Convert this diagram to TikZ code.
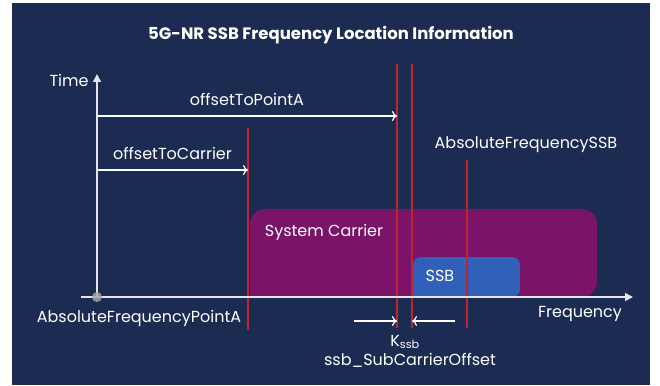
\documentclass[tikz,border=0pt]{standalone}
\usepackage{fontspec}
\setmainfont{Poppins}
\usetikzlibrary{arrows.meta}
\definecolor{navy}{HTML}{1B2B52}
\definecolor{carrier}{HTML}{7B1368}
\definecolor{ssbblue}{HTML}{3160B8}
\definecolor{redmark}{HTML}{C0222E}
\definecolor{axisgray}{HTML}{E4E4EC}

\begin{document}
\begin{tikzpicture}[x=1pt,y=-1pt,
  txt/.style={text=white,inner sep=0pt,font=\fontsize{16}{18}\selectfont},
  axis/.style={draw=axisgray,line width=1.4pt,-{Triangle[length=8pt,width=8pt]}},
  offset/.style={draw=white,line width=1.2pt,-{To[length=5pt,width=10pt]}},
  redline/.style={draw=redmark,line width=1.1pt}]
  \useasboundingbox (0,0) rectangle (660,385);
  \fill[navy] (12,3) rectangle (650,385);
  % carrier and ssb blocks
  \fill[carrier,rounded corners=15pt] (250,297) -- (250,209) -- (597,209) -- (597,297) [sharp corners] -- cycle;
  \fill[ssbblue,rounded corners=8pt] (413,297) -- (413,257) -- (520,257) -- (520,297) [sharp corners] -- cycle;
  \node [txt,font=\fontsize{16.5}{18}\bfseries] (title) at (331,35) {5G-NR SSB Frequency Location Information};
  \node [txt] (carriertxt) at (324,232) {System Carrier};
  \node [txt] (ssbtxt) at (440,276) {SSB};
  % red markers
  \coordinate (c1) at (248,128);  \coordinate (c1b) at (248,330);
  \coordinate (a1) at (397,64);   \coordinate (a1b) at (397,328);
  \coordinate (s1) at (412,64);   \coordinate (s1b) at (412,328);
  \coordinate (f1) at (467,160);  \coordinate (f1b) at (467,328);
  \path[redline] (c1) -- (c1b) (a1) -- (a1b) (s1) -- (s1b) (f1) -- (f1b);
  % axes
  \coordinate (o) at (97,297);
  \coordinate (t) at (97,74);
  \coordinate (fs) at (81,297);
  \coordinate (fe) at (633,297);
  \draw[axis] (o) -- (t);
  \draw[axis] (fs) -- (fe);
  \fill[gray!70,opacity=0.85] (o) circle (5pt);
  \node [txt] (time) at (69,80) {Time};
  \node [txt] (freq) at (580,314) {Frequency};
  \node [txt] (pointa) at (139,318) {AbsoluteFrequencyPointA};
  \node [txt] (ssbfreq) at (526,145) {AbsoluteFrequencySSB};
  % offsets
  \coordinate (pa0) at (97,116);  \coordinate (pa1) at (397,116);
  \coordinate (oc0) at (97,170);  \coordinate (oc1) at (248,170);
  \draw[offset] (pa0) -- node [txt,above=10pt] {offsetToPointA} (pa1);
  \draw[offset] (oc0) -- node [txt,above=10pt] {offsetToCarrier} (oc1);
  \coordinate (k0) at (354,321);  \coordinate (k1) at (455,321);
  \draw[offset] (k0) -- (a1b |- k0);
  \draw[offset] (k1) -- (s1b |- k1);
  \node [txt] (kssb) at (405,342) {K\textsubscript{ssb}};
  \node [txt] (subofs) at (410,360) {ssb\_SubCarrierOffset};
\end{tikzpicture}
\end{document}
